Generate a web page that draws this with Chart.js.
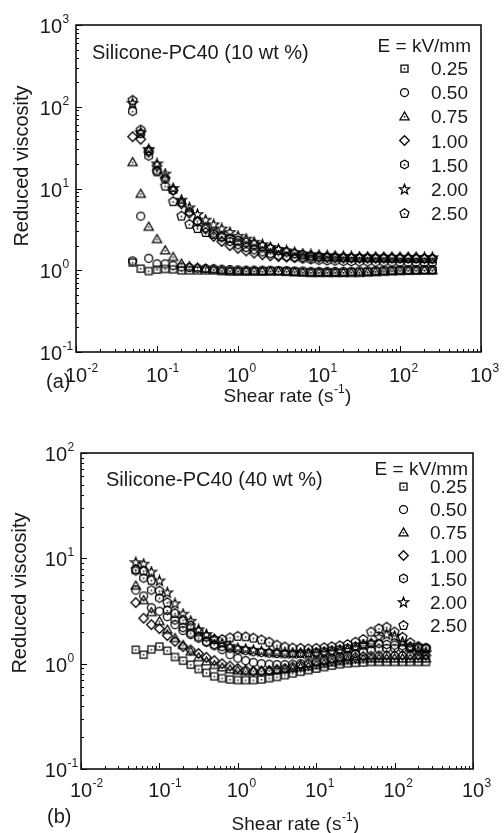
<!DOCTYPE html>
<html>
<head>
<meta charset="utf-8">
<script src="https://cdn.jsdelivr.net/npm/chart.js@4/dist/chart.umd.min.js"></script>
<style>
  html, body { margin: 0; padding: 0; background: #fff; }
  #wrap { position: relative; width: 504px; height: 833px; overflow: hidden; }
  canvas { position: absolute; left: 0; }
</style>
</head>
<body>
<div id="wrap">
  <canvas id="chartA" width="504" height="420" style="top:0"></canvas>
  <canvas id="chartB" width="504" height="433" style="top:400px"></canvas>
</div>
<script>
// shear rate (s^-1), shared by every series
const shearRate = [0.05, 0.063, 0.079, 0.1, 0.126, 0.158, 0.2, 0.251, 0.316, 0.398,
    0.501, 0.631, 0.794, 1, 1.26, 1.58, 2, 2.51, 3.16, 3.98,
    5.01, 6.31, 7.94, 10, 12.6, 15.8, 20, 25.1, 31.6, 39.8,
    50.1, 63.1, 79.4, 100, 126, 158, 200, 251];

const fieldLabels = ['0.25', '0.50', '0.75', '1.00', '1.50', '2.00', '2.50'];

// (a) 10 wt %
const a025 = [1.25, 1.05, 0.98, 1.02, 1.04, 1.03, 1.0, 1.0, 1.0, 1.0,
    1.0, 0.98, 0.97, 0.97, 0.97, 0.97, 0.97, 0.98, 0.98, 0.97,
    0.96, 0.95, 0.94, 0.94, 0.94, 0.94, 0.94, 0.95, 0.95, 0.96,
    0.97, 0.98, 0.99, 1.0, 1.0, 1.0, 1.0, 1.0];
const a050 = [1.3, 4.6, 1.4, 1.2, 1.2, 1.15, 1.1, 1.08, 1.06, 1.05,
    1.04, 1.03, 1.02, 1.01, 1.0, 1.0, 1.0, 1.0, 0.99, 0.99,
    0.98, 0.98, 0.97, 0.97, 0.97, 0.97, 0.97, 0.97, 0.98, 0.98,
    0.99, 1.0, 1.0, 1.01, 1.01, 1.02, 1.02, 1.02];
const a075 = [21, 8.6, 3.4, 2.4, 1.75, 1.45, 1.2, 1.12, 1.08, 1.05,
    1.03, 1.0, 0.99, 0.98, 0.98, 0.98, 0.97, 0.97, 0.97, 0.96,
    0.95, 0.94, 0.93, 0.93, 0.93, 0.93, 0.93, 0.93, 0.93, 0.94,
    0.95, 0.96, 0.97, 0.98, 0.99, 0.99, 1.0, 1.0];
const a100 = [43, 40, 28, 19, 13.5, 9.5, 6.5, 5.0, 3.9, 3.2,
    2.6, 2.25, 2.0, 1.85, 1.72, 1.62, 1.55, 1.5, 1.47, 1.45,
    1.44, 1.43, 1.42, 1.42, 1.42, 1.41, 1.41, 1.41, 1.41, 1.41,
    1.41, 1.41, 1.41, 1.41, 1.41, 1.41, 1.4, 1.4];
const a150 = [88, 47, 25, 16.5, 13, 9.5, 6.8, 5.2, 4.0, 3.3,
    2.85, 2.5, 2.25, 2.05, 1.9, 1.78, 1.68, 1.6, 1.53, 1.47,
    1.42, 1.38, 1.35, 1.33, 1.31, 1.3, 1.29, 1.28, 1.27, 1.27,
    1.26, 1.26, 1.26, 1.25, 1.25, 1.25, 1.25, 1.25];
const a200 = [110, 48, 30, 20, 15, 10, 7.2, 5.8, 4.8, 4.1,
    3.6, 3.2, 2.9, 2.6, 2.4, 2.2, 2.05, 1.9, 1.8, 1.72,
    1.65, 1.58, 1.55, 1.52, 1.5, 1.48, 1.47, 1.46, 1.45, 1.45,
    1.44, 1.44, 1.44, 1.43, 1.43, 1.43, 1.42, 1.42];
const a250 = [120, 52, 29, 16, 10.7, 6.9, 4.6, 3.65, 3.24, 2.9,
    2.75, 2.6, 2.45, 2.3, 2.2, 2.05, 1.95, 1.85, 1.75, 1.68,
    1.6, 1.55, 1.5, 1.48, 1.46, 1.45, 1.44, 1.43, 1.42, 1.42,
    1.41, 1.41, 1.4, 1.4, 1.4, 1.39, 1.39, 1.38];

// (b) 40 wt %
const b025 = [1.36, 1.22, 1.37, 1.46, 1.33, 1.16, 1.07, 0.98, 0.89, 0.82,
    0.76, 0.73, 0.71, 0.70, 0.70, 0.70, 0.71, 0.73, 0.75, 0.78,
    0.81, 0.84, 0.87, 0.9, 0.93, 0.96, 0.99, 1.01, 1.02, 1.03,
    1.04, 1.04, 1.04, 1.04, 1.04, 1.04, 1.04, 1.04];
const b050 = [5.0, 4.4, 3.4, 3.15, 2.8, 2.35, 2.07, 1.89, 1.8, 1.6,
    1.48, 1.36, 1.22, 1.13, 1.07, 1.03, 1.0, 0.99, 0.98, 0.98,
    0.99, 1.0, 1.02, 1.05, 1.08, 1.12, 1.16, 1.2, 1.25, 1.3,
    1.35, 1.38, 1.4, 1.4, 1.4, 1.4, 1.4, 1.4];
const b075 = [5.5, 4.0, 3.08, 2.53, 2.1, 1.75, 1.5, 1.3, 1.15, 1.05,
    0.97, 0.92, 0.88, 0.86, 0.85, 0.85, 0.85, 0.86, 0.87, 0.88,
    0.9, 0.92, 0.94, 0.97, 1.0, 1.03, 1.06, 1.08, 1.1, 1.11,
    1.12, 1.12, 1.12, 1.12, 1.12, 1.12, 1.12, 1.12];
const b100 = [3.8, 2.7, 2.35, 2.15, 1.85, 1.63, 1.45, 1.35, 1.25, 1.15,
    1.07, 1.0, 0.95, 0.9, 0.87, 0.85, 0.85, 0.86, 0.88, 0.9,
    0.93, 0.96, 0.99, 1.02, 1.05, 1.08, 1.1, 1.13, 1.15, 1.17,
    1.18, 1.19, 1.2, 1.2, 1.2, 1.2, 1.2, 1.2];
const b150 = [7.6, 6.5, 5.0, 4.2, 3.2, 2.6, 2.2, 1.95, 1.75, 1.62,
    1.52, 1.45, 1.4, 1.36, 1.33, 1.3, 1.28, 1.26, 1.25, 1.24,
    1.24, 1.25, 1.26, 1.28, 1.3, 1.33, 1.36, 1.4, 1.45, 1.5,
    1.55, 1.55, 1.52, 1.5, 1.48, 1.45, 1.43, 1.42];
const b200 = [9.1, 8.8, 7.4, 6.1, 4.7, 3.7, 2.95, 2.53, 2.1, 1.89,
    1.7, 1.55, 1.46, 1.4, 1.37, 1.34, 1.31, 1.29, 1.27, 1.26,
    1.25, 1.25, 1.25, 1.26, 1.28, 1.3, 1.33, 1.37, 1.42, 1.5,
    1.55, 1.78, 1.88, 1.82, 1.6, 1.42, 1.32, 1.27];
const b250 = [7.85, 7.6, 6.2, 4.9, 3.8, 3.0, 2.6, 2.3, 2.0, 1.8,
    1.7, 1.7, 1.76, 1.82, 1.8, 1.75, 1.68, 1.6, 1.5, 1.44,
    1.41, 1.4, 1.38, 1.4, 1.42, 1.45, 1.48, 1.52, 1.6, 1.7,
    2.0, 2.15, 2.22, 2.0, 1.78, 1.58, 1.46, 1.38];

// decade exponents for the tick labels
const xTickExp = [-2, -1, 0, 1, 2, 3];
const yTickExpA = [-1, 0, 1, 2, 3];
const yTickExpB = [-1, 0, 1, 2];

const FONT = '"Liberation Sans", Arial, Helvetica, sans-serif';
const INK = '#1a1a1a';

// small outline markers drawn on canvases, used as pointStyle
function makeMarker(shape, size) {
    const c = document.createElement('canvas');
    c.width = c.height = size;
    const g = c.getContext('2d');
    const m = size / 2;
    g.strokeStyle = '#000';
    g.lineWidth = 1.25;
    const poly = (n, r, inner) => {
        const steps = inner ? n * 2 : n;
        for (let i = 0; i < steps; i++) {
            const a = -Math.PI / 2 + i * 2 * Math.PI / steps;
            const rr = inner && i % 2 ? inner : r;
            const px = m + rr * Math.cos(a), py = m + rr * Math.sin(a);
            i ? g.lineTo(px, py) : g.moveTo(px, py);
        }
        g.closePath();
    };
    let dot = false;
    g.beginPath();
    if (shape === 'square') { g.rect(m - 3.5, m - 3.5, 7, 7); dot = true; }
    else if (shape === 'circle') { g.arc(m, m, 4, 0, Math.PI * 2); }
    else if (shape === 'triangle') { g.moveTo(m, m - 4.6); g.lineTo(m + 4.6, m + 3.4); g.lineTo(m - 4.6, m + 3.4); g.closePath(); dot = true; }
    else if (shape === 'diamond') { g.moveTo(m, m - 4.8); g.lineTo(m + 4.8, m); g.lineTo(m, m + 4.8); g.lineTo(m - 4.8, m); g.closePath(); }
    else if (shape === 'hexagon') { poly(6, 4.4); dot = true; }
    else if (shape === 'star') { poly(5, 5.2, 2.2); }
    else if (shape === 'pentagon') { poly(5, 4.7); dot = true; }
    g.stroke();
    if (dot) {
        g.fillStyle = '#222';
        g.fillRect(m - 0.8, m - 0.5, 1.6, 1.6);
    }
    return c;
}

const shapes = ['square', 'circle', 'triangle', 'diamond', 'hexagon', 'star', 'pentagon'];
const markers = shapes.map(s => makeMarker(s, 13));

function buildDatasets(series) {
    return series.map((vals, i) => ({
        label: fieldLabels[i],
        data: vals.map((v, k) => ({ x: shearRate[k], y: v })),
        pointStyle: markers[i],
        showLine: false
    }));
}

// draw "10" with a superscript exponent
function powerLabel(g, x, y, exp, align) {
    g.font = '20px ' + FONT;
    const base = g.measureText('10').width;
    const bx = align === 'center' ? x - base / 2 : x - base;
    g.textAlign = 'left';
    g.fillText('10', bx, y);
    g.font = '12px ' + FONT;
    g.fillText(String(exp), bx + base + 0.5, y - 10);
}

const panelPlugin = {
    id: 'panel',
    afterDraw(chart, args, opts) {
        const g = chart.ctx;
        const area = chart.chartArea;
        const xs = chart.scales.x, ys = chart.scales.y;
        g.save();

        // frame
        g.strokeStyle = '#000';
        g.lineWidth = 1.5;
        g.strokeRect(area.left, area.top, area.right - area.left, area.bottom - area.top);

        // inward ticks on bottom and left
        g.lineWidth = 1;
        g.beginPath();
        const xe = [Math.log10(xs.min), Math.log10(xs.max)];
        for (let e = Math.round(xe[0]); e <= Math.round(xe[1]); e++) {
            for (let k = 1; k <= 9; k++) {
                const v = k * Math.pow(10, e);
                if (v > xs.max * 1.0001) break;
                const px = Math.round(xs.getPixelForValue(v)) + 0.5;
                const len = k === 1 ? 6 : 3;
                g.moveTo(px, area.bottom);
                g.lineTo(px, area.bottom - len);
            }
        }
        const ye = [Math.log10(ys.min), Math.log10(ys.max)];
        for (let e = Math.round(ye[0]); e <= Math.round(ye[1]); e++) {
            for (let k = 1; k <= 9; k++) {
                const v = k * Math.pow(10, e);
                if (v > ys.max * 1.0001) break;
                const py = Math.round(ys.getPixelForValue(v)) + 0.5;
                const len = k === 1 ? 6 : 3;
                g.moveTo(area.left, py);
                g.lineTo(area.left + len, py);
            }
        }
        g.stroke();

        // tick labels
        g.fillStyle = INK;
        g.textBaseline = 'alphabetic';
        opts.xTicks.forEach(e => {
            powerLabel(g, xs.getPixelForValue(Math.pow(10, e)), area.bottom + opts.xLabelGap, e, 'center');
        });
        opts.yTicks.forEach(e => {
            powerLabel(g, area.left - 14, ys.getPixelForValue(Math.pow(10, e)) + 8, e, 'right');
        });

        // x axis title with superscript
        g.font = '19px ' + FONT;
        const t1 = 'Shear rate (s', t3 = ')';
        const w1 = g.measureText(t1).width, w3 = g.measureText(t3).width;
        g.font = '12px ' + FONT;
        const w2 = g.measureText('-1').width;
        const tx = opts.xTitle[0] - (w1 + w2 + w3) / 2;
        g.textAlign = 'left';
        g.font = '19px ' + FONT;
        g.fillText(t1, tx, opts.xTitle[1]);
        g.font = '12px ' + FONT;
        g.fillText('-1', tx + w1 + 0.5, opts.xTitle[1] - 9);
        g.font = '19px ' + FONT;
        g.fillText(t3, tx + w1 + w2 + 1, opts.xTitle[1]);

        // y axis title
        g.save();
        g.translate(opts.yTitle[0], opts.yTitle[1]);
        g.rotate(-Math.PI / 2);
        g.textAlign = 'center';
        g.textBaseline = 'middle';
        g.font = '20px ' + FONT;
        g.fillText('Reduced viscosity', 0, 0);
        g.restore();

        // panel title and letter
        g.textAlign = 'left';
        g.textBaseline = 'alphabetic';
        g.font = '20px ' + FONT;
        g.fillText(opts.title, opts.titlePos[0], opts.titlePos[1]);
        g.fillText(opts.letter, opts.letterPos[0], opts.letterPos[1]);

        // legend
        g.textAlign = 'right';
        g.font = '19px ' + FONT;
        g.fillText('E = kV/mm', opts.legend.headerRight, opts.legend.headerY);
        chart.data.datasets.forEach((ds, i) => {
            const by = opts.legend.firstY + i * opts.legend.step;
            g.fillText(ds.label, opts.legend.textRight, by);
            const mk = ds.pointStyle;
            g.drawImage(mk, Math.round(opts.legend.markerX - mk.width / 2), Math.round(by - 7 - mk.height / 2));
        });
        g.restore();
    }
};

function makeChart(id, series, cfg) {
    return new Chart(document.getElementById(id), {
        type: 'scatter',
        data: { datasets: buildDatasets(series) },
        options: {
            responsive: false,
            animation: false,
            events: [],
            layout: { autoPadding: false, padding: cfg.padding },
            elements: { point: { radius: 4, borderWidth: 1 } },
            scales: {
                x: {
                    type: 'logarithmic', min: 0.01, max: 1000,
                    grid: { display: false }, border: { display: false },
                    ticks: { display: false },
                    afterFit: s => { s.height = cfg.xHeight; }
                },
                y: {
                    type: 'logarithmic', min: 0.1, max: cfg.yMax,
                    grid: { display: false }, border: { display: false },
                    ticks: { display: false },
                    afterFit: s => { s.width = cfg.yWidth; }
                }
            },
            plugins: {
                legend: { display: false },
                tooltip: { enabled: false },
                panel: cfg.panel
            }
        },
        plugins: [panelPlugin]
    });
}

makeChart('chartA', [a025, a050, a075, a100, a150, a200, a250], {
    padding: { top: 25, right: 23, bottom: 0, left: 0 },
    xHeight: 68, yWidth: 76, yMax: 1000,
    panel: {
        xTicks: xTickExp, yTicks: yTickExpA, xLabelGap: 30,
        xTitle: [287, 402], yTitle: [22, 166],
        title: 'Silicone-PC40 (10 wt %)', titlePos: [92, 59],
        letter: '(a)', letterPos: [46, 388],
        legend: { headerRight: 471, headerY: 51.5, textRight: 468, markerX: 404, firstY: 75, step: 24.2 }
    }
});

makeChart('chartB', [b025, b050, b075, b100, b150, b200, b250], {
    padding: { top: 53, right: 31, bottom: 0, left: 0 },
    xHeight: 64, yWidth: 81, yMax: 100,
    panel: {
        xTicks: xTickExp, yTicks: yTickExpB, xLabelGap: 28,
        xTitle: [295, 430], yTitle: [20, 193],
        title: 'Silicone-PC40 (40 wt %)', titlePos: [106, 86],
        letter: '(b)', letterPos: [47, 423],
        legend: { headerRight: 468, headerY: 75, textRight: 467, markerX: 403, firstY: 93, step: 23.2 }
    }
});
</script>
</body>
</html>
